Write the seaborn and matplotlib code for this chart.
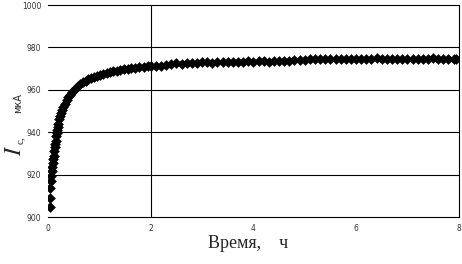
import matplotlib
matplotlib.use("Agg")
import matplotlib.pyplot as plt
import seaborn as sns
import pandas as pd

# Время, ч  и  ток Ic, мкА
time_start = [0.03, 0.03, 0.04, 0.05, 0.06, 0.07, 0.08, 0.09, 0.10, 0.11,
              0.12, 0.13, 0.14, 0.15, 0.16, 0.17, 0.18, 0.19, 0.20, 0.22,
              0.24, 0.26, 0.28, 0.30, 0.33, 0.36, 0.39, 0.42, 0.46, 0.50,
              0.54, 0.58, 0.63, 0.68, 0.73, 0.78, 0.84, 0.90, 0.96, 1.02,
              1.08, 1.14, 1.20, 1.27, 1.34, 1.41, 1.48, 1.55, 1.62, 1.70,
              1.78, 1.86, 1.94]
ic_start = [904.5, 909.0, 913.5, 917.0, 919.5, 921.5, 923.5, 925.5, 927.5, 929.0,
            931.0, 933.0, 934.5, 936.0, 938.0, 939.5, 941.0, 942.5, 944.0, 946.0,
            947.5, 949.0, 950.5, 952.0, 953.5, 955.0, 956.5, 957.5, 959.0, 960.0,
            961.0, 962.0, 962.8, 963.5, 964.3, 965.0, 965.6, 966.2, 966.7, 967.2,
            967.6, 968.0, 968.3, 968.7, 969.0, 969.4, 969.6, 969.9, 970.1, 970.4,
            970.6, 970.8, 971.0]

time_end = [2.0, 2.1, 2.2, 2.3, 2.4, 2.5, 2.6, 2.7, 2.8, 2.9,
            3.0, 3.1, 3.2, 3.3, 3.4, 3.5, 3.6, 3.7, 3.8, 3.9,
            4.0, 4.1, 4.2, 4.3, 4.4, 4.5, 4.6, 4.7, 4.8, 4.9,
            5.0, 5.1, 5.2, 5.3, 5.4, 5.5, 5.6, 5.7, 5.8, 5.9,
            6.0, 6.1, 6.2, 6.3, 6.4, 6.5, 6.6, 6.7, 6.8, 6.9,
            7.0, 7.1, 7.2, 7.3, 7.4, 7.5, 7.6, 7.7, 7.8, 7.9, 7.95]
ic_end = [971.2, 971.3, 971.0, 971.5, 972.4, 972.5, 972.3, 972.7, 972.6, 972.8,
          972.9, 973.0, 972.8, 973.1, 973.0, 973.2, 973.1, 973.3, 973.2, 973.4,
          973.3, 973.5, 973.4, 973.3, 973.7, 973.5, 973.8, 973.6, 973.9, 974.0,
          974.2, 974.4, 974.3, 974.6, 974.4, 974.5, 974.7, 974.5, 974.4, 974.6,
          974.5, 974.7, 974.4, 974.6, 974.8, 974.5, 974.6, 974.4, 974.7, 974.5,
          974.6, 974.4, 974.7, 974.5, 974.6, 974.8, 974.5, 974.6, 974.4, 974.7, 974.5]

x_ticks = [0, 2, 4, 6, 8]
y_ticks = [900, 920, 940, 960, 980, 1000]

df = pd.DataFrame({"t": time_start + time_end, "ic": ic_start + ic_end})

sns.set_style("white")
fig = plt.figure(figsize=(4.62, 2.64), dpi=100)
ax = fig.add_axes([0.104, 0.178, 0.889, 0.803])

sns.scatterplot(data=df, x="t", y="ic", marker="D", color="black",
                s=30, edgecolor="black", linewidth=0, ax=ax, zorder=3)

ax.set_xlim(0, 8)
ax.set_ylim(900, 1000)
ax.set_xticks(x_ticks)
ax.set_yticks(y_ticks)
ax.tick_params(length=0, labelsize=5.5, colors="#333333", pad=5)
for y in y_ticks[1:-1]:
    ax.axhline(y, color="black", lw=0.8, zorder=1)
ax.axvline(2, color="black", lw=0.8, zorder=1)
ax.spines["left"].set_visible(False)
for s in ["top", "bottom", "right"]:
    ax.spines[s].set_color("black")
    ax.spines[s].set_linewidth(0.8)
ax.set_xlabel("")
ax.set_ylabel("")

fig.text(0.537, 0.045, "Время,    ч", fontsize=13, family="Liberation Serif",
         ha="center", va="bottom")
fig.text(0.030, 0.43, "$I$", fontsize=17, rotation=90, ha="center",
         va="center", math_fontfamily="stix")
fig.text(0.045, 0.468, "c,", fontsize=8, family="Liberation Serif",
         rotation=90, ha="center", va="center")
fig.text(0.040, 0.61, "мкА", fontsize=7, family="DejaVu Sans",
         rotation=90, ha="center", va="center")

fig.savefig("out.png", dpi=100)
